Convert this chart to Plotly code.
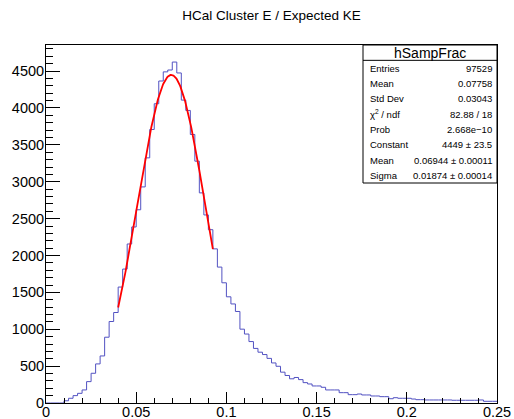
import numpy as np
import plotly.graph_objects as go

# Histogram hSampFrac: 100 bins on [0, 0.25]
x_lo, x_hi, n_bins = 0.0, 0.25, 100
counts = [
    0, 0, 0, 0, 30, 64, 100, 131, 177, 290,
    403, 530, 638, 892, 1105, 1227, 1572, 1816, 2156, 2387,
    2620, 2930, 3324, 3709, 4058, 4366, 4490, 4515, 4623, 4475,
    4107, 3967, 3641, 3279, 2849, 2550, 2350, 2090, 1843, 1630,
    1440, 1343, 1241, 1001, 935, 833, 740, 689, 657, 605,
    543, 498, 418, 373, 328, 346, 317, 276, 258, 231,
    231, 213, 177, 177, 177, 140, 140, 113, 113, 122,
    109, 109, 95, 95, 86, 86, 58, 72, 64, 64,
    64, 54, 45, 45, 41, 41, 41, 41, 41, 41,
    37, 37, 37, 37, 37, 37, 41, 23, 23, 23,
]

# Gaussian fit result
fit_const, fit_mean, fit_sigma = 4449.0, 0.06944, 0.01874
fit_range = (0.04, 0.0925)

stat_labels = ["Entries", "Mean", "Std Dev", "\u03c7<sup>2</sup> / ndf", "Prob",
               "Constant", "Mean", "Sigma"]
stat_values = ["97529", "0.07758", "0.03043", "82.88 / 18", "2.668e\u221210",
               "4449 \u00b1 23.5", "0.06944 \u00b1 0.00011", "0.01874 \u00b1 0.00014"]

title_text = "HCal Cluster E / Expected KE"
hist_name = "hSampFrac"

edges = np.linspace(x_lo, x_hi, n_bins + 1)
step_y = list(counts) + [counts[-1]]

fx = np.linspace(fit_range[0], fit_range[1], 200)
fy = fit_const * np.exp(-0.5 * ((fx - fit_mean) / fit_sigma) ** 2)

W, H = 514, 419
ml, mr, mt, mb = 46, 17, 45, 16
fw, fh = W - ml - mr, H - mt - mb

def px(xp):
    return (xp - ml) / fw

def py(yp):
    return (H - mb - yp) / fh

font = "Liberation Sans, Arial, Helvetica, sans-serif"

fig = go.Figure()
fig.add_trace(go.Scatter(x=edges, y=step_y, mode="lines", line_shape="hv",
                         line=dict(color="#5252c2", width=1), hoverinfo="skip",
                         showlegend=False))
fig.add_trace(go.Scatter(x=fx, y=fy, mode="lines",
                         line=dict(color="#ff0000", width=1.8), hoverinfo="skip",
                         showlegend=False))

ymax = 1.05 * max(counts)

fig.update_layout(
    width=W, height=H,
    margin=dict(l=ml, r=mr, t=mt, b=mb, pad=0, autoexpand=False),
    paper_bgcolor="white", plot_bgcolor="white",
    font=dict(family=font, color="black", size=14),
    title=dict(text=title_text, x=px((ml + W - mr) / 2), xref="paper", xanchor="center",
               y=1 - 15 / H, yanchor="middle", font=dict(size=13.5)),
    xaxis=dict(range=[x_lo, x_hi], dtick=0.05, tick0=0, ticks="inside", ticklen=11,
               tickcolor="black", showgrid=False, zeroline=False, showline=True,
               linecolor="black", linewidth=1, mirror=True, automargin=False,
               ticklabelstandoff=-4,
               minor=dict(dtick=0.01, ticks="inside", ticklen=5, tickcolor="black"),
               tickfont=dict(size=14.5)),
    yaxis=dict(range=[0, ymax], dtick=500, tick0=0, ticks="inside", ticklen=14,
               tickcolor="black", showgrid=False, zeroline=False, showline=True,
               linecolor="black", linewidth=1, mirror=True, tickformat="d",
               automargin=False, ticklabelstandoff=-2,
               minor=dict(dtick=100, ticks="inside", ticklen=7, tickcolor="black"),
               tickfont=dict(size=14.5)),
)

# Statistics box
bx0, bx1, by0, by1 = 363, W - mr, mt, 183
row_h = (by1 - by0) / 9.0
shapes = [
    dict(type="rect", xref="paper", yref="paper", x0=px(bx0), x1=px(bx1),
         y0=py(by1), y1=py(by0), line=dict(color="black", width=1), fillcolor="white",
         layer="above"),
    dict(type="line", xref="paper", yref="paper", x0=px(bx0), x1=px(bx1),
         y0=py(by0 + row_h), y1=py(by0 + row_h), line=dict(color="black", width=1),
         layer="above"),
]
fig.update_layout(shapes=shapes)
fig.add_annotation(text=hist_name, xref="paper", yref="paper", x=px((bx0 + bx1) / 2),
                   y=py(by0 + row_h / 2), xanchor="center", yanchor="middle",
                   showarrow=False, font=dict(size=14))
for i, (lab, val) in enumerate(zip(stat_labels, stat_values)):
    yc = py(by0 + row_h * (i + 1.5))
    fig.add_annotation(text=lab, xref="paper", yref="paper", x=px(bx0 + 5), y=yc,
                       xanchor="left", yanchor="middle", showarrow=False,
                       font=dict(size=9.5))
    fig.add_annotation(text=val, xref="paper", yref="paper", x=px(bx1 - 3), y=yc,
                       xanchor="right", yanchor="middle", showarrow=False,
                       font=dict(size=9.5))

fig.write_html("out.html")
